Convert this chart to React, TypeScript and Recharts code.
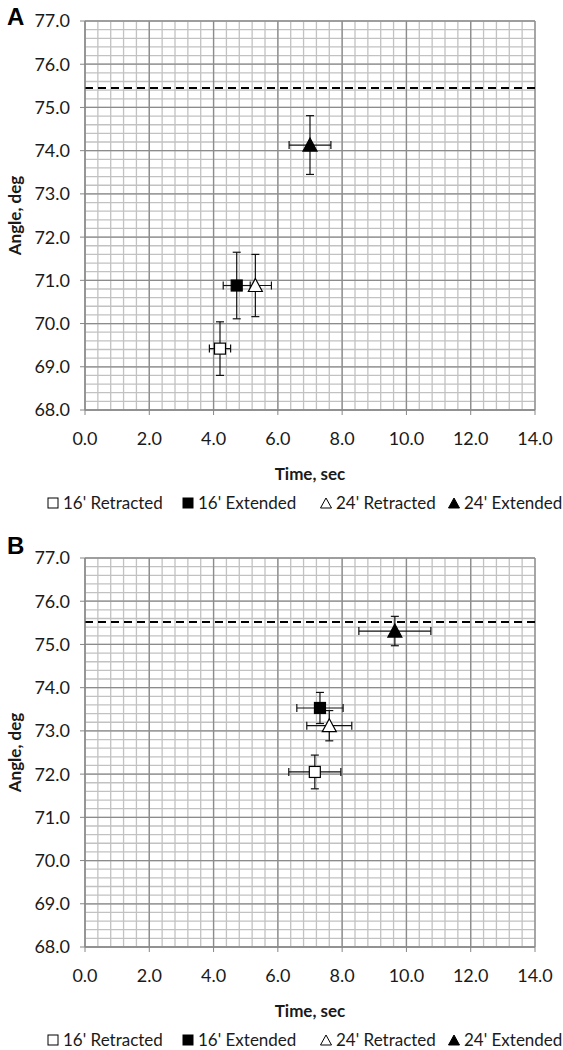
import React from "react";
import {
  ScatterChart,
  Scatter,
  XAxis,
  YAxis,
  CartesianGrid,
  ReferenceLine,
  ErrorBar,
} from "recharts";

const SERIES = ["16' Retracted", "16' Extended", "24' Retracted", "24' Extended"];

// panel A
const A_TIME = [4.2, 4.72, 5.3, 7.0];
const A_TIME_ERR = [0.33, 0.42, 0.5, 0.65];
const A_ANGLE = [69.42, 70.88, 70.88, 74.13];
const A_ANGLE_ERR = [0.62, 0.77, 0.72, 0.68];
const A_LIMIT = 75.45;

// panel B
const B_TIME = [7.15, 7.31, 7.6, 9.64];
const B_TIME_ERR = [0.81, 0.72, 0.7, 1.12];
const B_ANGLE = [72.05, 73.53, 73.12, 75.31];
const B_ANGLE_ERR = [0.39, 0.36, 0.35, 0.34];
const B_LIMIT = 75.52;

const X_TICKS = [0, 2, 4, 6, 8, 10, 12, 14];
const Y_TICKS = [68, 69, 70, 71, 72, 73, 74, 75, 76, 77];
// minor gridlines: 0.4 s and 0.2 deg
const X_MINOR = Array.from({ length: 36 }, (_, i) => Math.round(i * 4) / 10);
const Y_MINOR = Array.from({ length: 46 }, (_, i) => Math.round(680 + i * 2) / 10);

const MARKERS = ["openSquare", "filledSquare", "openTriangle", "filledTriangle"];
const LEGEND_LEFT = [48, 183, 321, 449];

const FONT = "Lato, 'Open Sans', sans-serif";
const TEXT = "#1a1a1a";
const AXIS = "#868686";

function Marker({ cx, cy, kind }: { cx?: number; cy?: number; kind: string }) {
  if (cx == null || cy == null) return null;
  const fill = kind.startsWith("filled") ? "#000" : "#fff";
  if (kind.endsWith("Square")) {
    return (
      <rect x={cx - 5.5} y={cy - 5.5} width={11} height={11} fill={fill} stroke="#000" strokeWidth={1.2} />
    );
  }
  return (
    <polygon
      points={`${cx},${cy - 7} ${cx + 7},${cy + 6} ${cx - 7},${cy + 6}`}
      fill={fill}
      stroke="#000"
      strokeWidth={1.2}
    />
  );
}

function LegendIcon({ kind }: { kind: string }) {
  const fill = kind.startsWith("filled") ? "#000" : "#fff";
  return (
    <svg width={12} height={12} style={{ display: "block" }}>
      {kind.endsWith("Square") ? (
        <rect x={1} y={1} width={10} height={10} fill={fill} stroke="#000" strokeWidth={1} />
      ) : (
        <polygon points="6,1 11.5,11 0.5,11" fill={fill} stroke="#000" strokeWidth={1} />
      )}
    </svg>
  );
}

// map a value with whatever scale the grid hands us
function applyScale(scale: any, v: number, fallback: number) {
  if (typeof scale === "function") return scale(v);
  if (scale && typeof scale.map === "function") return scale.map(v);
  return fallback;
}

const minorX = ({ xAxis, offset }: any) =>
  X_MINOR.map((v) => applyScale(xAxis?.scale, v, offset.left + (v / 14) * offset.width));
const minorY = ({ yAxis, offset }: any) =>
  Y_MINOR.map((v) => applyScale(yAxis?.scale, v, offset.top + ((77 - v) / 9) * offset.height));

interface PanelProps {
  top: number;
  time: number[];
  timeErr: number[];
  angle: number[];
  angleErr: number[];
  limit: number;
}

function Panel({ top, time, timeErr, angle, angleErr, limit }: PanelProps) {
  const tick = { fontFamily: FONT, fontSize: 18, fill: TEXT };
  return (
    <div style={{ position: "absolute", left: 0, top, width: 563, height: 520 }}>
      <ScatterChart width={563} height={490} margin={{ top: 21, right: 28, bottom: 40, left: 0 }}>
        <CartesianGrid
          stroke="#c2c2c2"
          strokeWidth={1.3}
          verticalCoordinatesGenerator={minorX}
          horizontalCoordinatesGenerator={minorY}
        />
        <CartesianGrid stroke="#8c8c8c" strokeWidth={1.3} />
        <XAxis
          type="number"
          dataKey="x"
          domain={[0, 14]}
          ticks={X_TICKS}
          interval={0}
          height={40}
          tickSize={5}
          tickMargin={17}
          stroke={AXIS}
          tick={tick}
          tickFormatter={(v: number) => v.toFixed(1)}
          label={{
            value: "Time, sec",
            position: "bottom",
            offset: 18,
            style: { fontFamily: FONT, fontSize: 17, fontWeight: 700, fill: TEXT },
          }}
        />
        <YAxis
          type="number"
          dataKey="y"
          domain={[68, 77]}
          ticks={Y_TICKS}
          interval={0}
          width={85}
          tickSize={5}
          tickMargin={10}
          stroke={AXIS}
          tick={tick}
          tickFormatter={(v: number) => v.toFixed(1)}
          label={{
            value: "Angle, deg",
            angle: -90,
            position: "insideLeft",
            offset: 15,
            style: { textAnchor: "middle", fontFamily: FONT, fontSize: 17, fontWeight: 700, fill: TEXT },
          }}
        />
        <ReferenceLine y={limit} stroke="#000" strokeWidth={2} strokeDasharray="8 5" />
        {SERIES.map((name, i) => (
          <Scatter
            key={name}
            name={name}
            data={[{ x: time[i], y: angle[i], ex: timeErr[i], ey: angleErr[i] }]}
            shape={(p: any) => <Marker cx={p.cx} cy={p.cy} kind={MARKERS[i]} />}
            isAnimationActive={false}
          >
            <ErrorBar dataKey="ex" direction="x" width={4} stroke="#111" strokeWidth={1.2} />
            <ErrorBar dataKey="ey" direction="y" width={4} stroke="#111" strokeWidth={1.2} />
          </Scatter>
        ))}
      </ScatterChart>
      {SERIES.map((name, i) => (
        <div
          key={name}
          style={{
            position: "absolute",
            left: LEGEND_LEFT[i] - 1,
            top: 493,
            display: "flex",
            alignItems: "center",
            gap: 4,
            fontFamily: FONT,
            fontSize: 17,
            color: TEXT,
            lineHeight: "20px",
            whiteSpace: "nowrap",
          }}
        >
          <LegendIcon kind={MARKERS[i]} />
          <span>{name}</span>
        </div>
      ))}
    </div>
  );
}

const letterStyle: React.CSSProperties = {
  position: "absolute",
  left: 7,
  fontFamily: "'Liberation Sans', Arial, sans-serif",
  fontWeight: 700,
  fontSize: 24,
  lineHeight: "24px",
  color: "#000",
};

export default function App() {
  return (
    <div style={{ position: "absolute", left: 0, top: 0, width: 563, height: 1050, background: "#fff" }}>
      <div style={{ ...letterStyle, top: 5 }}>A</div>
      <Panel top={0} time={A_TIME} timeErr={A_TIME_ERR} angle={A_ANGLE} angleErr={A_ANGLE_ERR} limit={A_LIMIT} />
      <div style={{ ...letterStyle, top: 534 }}>B</div>
      <Panel top={537} time={B_TIME} timeErr={B_TIME_ERR} angle={B_ANGLE} angleErr={B_ANGLE_ERR} limit={B_LIMIT} />
    </div>
  );
}
